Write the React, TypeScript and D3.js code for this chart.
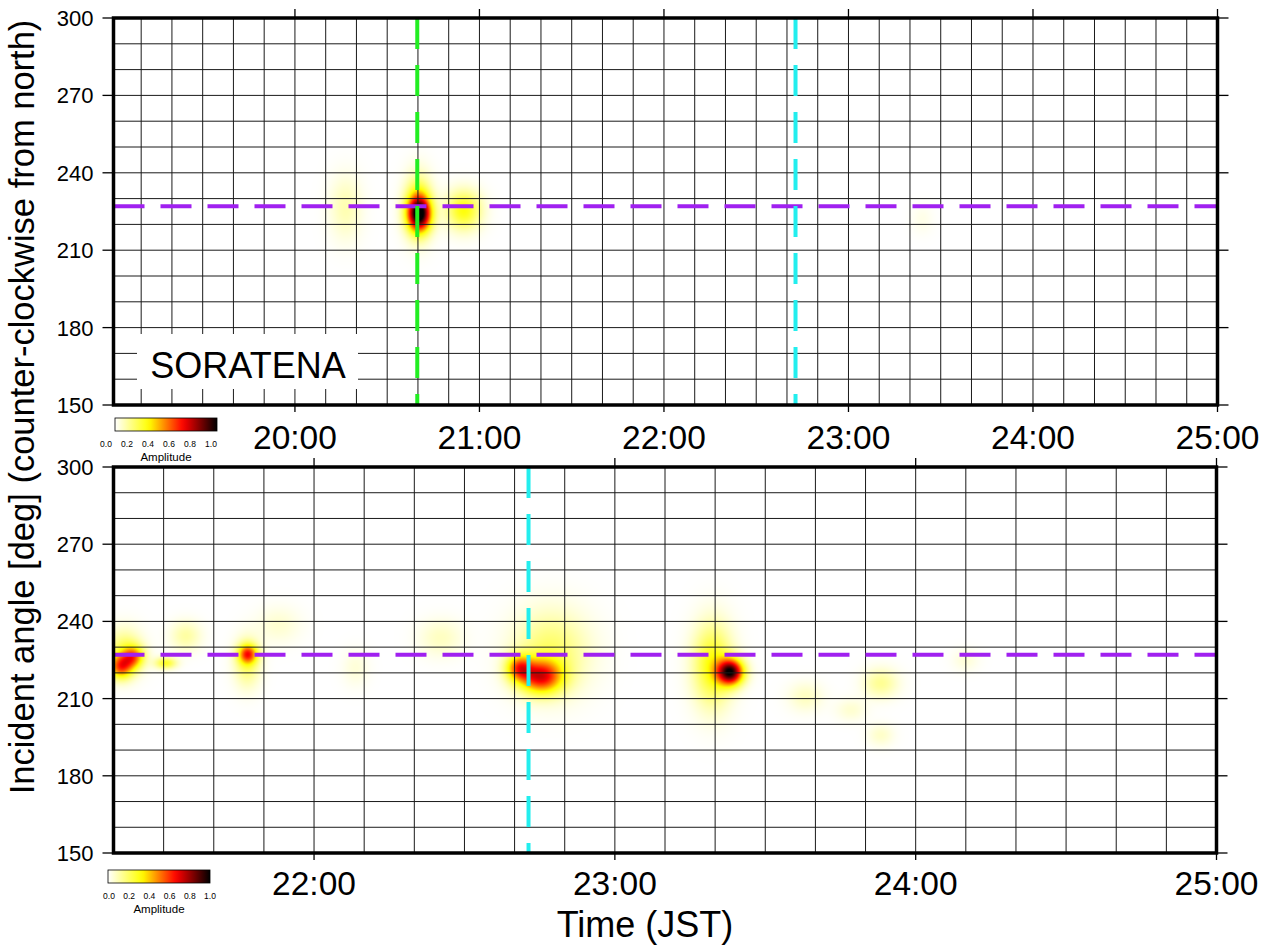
import React, { useMemo } from "react";
import * as d3 from "d3";

// ---------- data ----------
const topTimeDomain = [19 + 1 / 60, 25];
const bottomTimeDomain = [21 + 20 / 60, 25];
const angleDomain = [150, 300];
const angleTicks = [150, 180, 210, 240, 270, 300];
const topHourTicks = [20, 21, 22, 23, 24, 25];
const bottomHourTicks = [22, 23, 24, 25];
const colorbarTicks = [0, 0.2, 0.4, 0.6, 0.8, 1.0];
const referenceAngle = 227;
const greenTime = 20.663;
const cyanTime = 22.713;
const stationName = "SORATENA";

// sources: [time (h), angle (deg), amplitude, spread in time (h), spread in angle (deg)]
const topSources: number[][] = [
  [20.674, 224.0, 0.82, 0.045, 4.6],
  [20.668, 227.0, 0.35, 0.05, 8.0],
  [20.275, 226.5, 0.1, 0.06, 8.5],
  [20.915, 225.5, 0.32, 0.065, 5.2],
  [23.4, 222.0, 0.03, 0.04, 4.0],
];

const bottomSources: number[][] = [
  [21.358, 222.3, 0.48, 0.027, 3.2],
  [21.4, 226.2, 0.4, 0.025, 3.0],
  [21.37, 228.0, 0.22, 0.04, 6.0],
  [21.507, 223.8, 0.28, 0.025, 1.6],
  [21.574, 234.3, 0.12, 0.035, 4.0],
  [21.78, 227.3, 0.5, 0.022, 2.6],
  [21.778, 224.0, 0.2, 0.03, 6.5],
  [21.882, 238.6, 0.06, 0.05, 5.0],
  [22.421, 233.5, 0.08, 0.05, 5.0],
  [22.138, 221.9, 0.05, 0.03, 5.0],
  [22.754, 218.5, 0.6, 0.05, 4.5],
  [22.681, 221.9, 0.45, 0.03, 3.5],
  [22.787, 228.0, 0.2, 0.085, 11.0],
  [23.385, 220.3, 0.9, 0.03, 3.5],
  [23.325, 223.0, 0.32, 0.045, 11.0],
  [23.634, 210.6, 0.08, 0.04, 4.0],
  [23.785, 205.6, 0.06, 0.035, 3.0],
  [23.884, 216.0, 0.14, 0.04, 4.0],
  [23.884, 195.8, 0.07, 0.03, 3.0],
  [24.166, 225.0, 0.05, 0.03, 3.0],
];

// ---------- style ----------
const FONT = "'Liberation Sans', Arial, Helvetica, sans-serif";
const PURPLE = "#a020f0";
const GREEN = "#22ee22";
const CYAN = "#22eeee";

const colormap = d3
  .scaleLinear<string>()
  .domain([0, 1 / 3, 2 / 3, 1])
  .range(["#ffffff", "#ffff00", "#ff0000", "#000000"])
  .clamp(true);

function makeHeat(
  sources: number[][],
  x: d3.ScaleLinear<number, number>,
  y: d3.ScaleLinear<number, number>,
  left: number,
  top: number,
  w: number,
  h: number
): string {
  if (typeof document === "undefined") return "";
  const canvas = document.createElement("canvas");
  canvas.width = w;
  canvas.height = h;
  const ctx = canvas.getContext("2d");
  if (!ctx) return "";
  const img = ctx.createImageData(w, h);
  const pxSources = sources.map(([t, a, amp, st, sa]) => {
    const cx = x(t) - left;
    const cy = y(a) - top;
    const sx = Math.abs(x(t + st) - x(t));
    const sy = Math.abs(y(a + sa) - y(a));
    return [cx, cy, amp, sx, sy];
  });
  for (let j = 0; j < h; j++) {
    for (let i = 0; i < w; i++) {
      let v = 0;
      for (const [cx, cy, amp, sx, sy] of pxSources) {
        const dx = (i + 0.5 - cx) / sx;
        const dy = (j + 0.5 - cy) / sy;
        const d2 = dx * dx + dy * dy;
        if (d2 < 30) v += amp * Math.exp(-0.5 * d2);
      }
      v = Math.min(1, v);
      const c = d3.rgb(colormap(v));
      const k = (j * w + i) * 4;
      img.data[k] = c.r;
      img.data[k + 1] = c.g;
      img.data[k + 2] = c.b;
      img.data[k + 3] = 255;
    }
  }
  ctx.putImageData(img, 0, 0);
  return canvas.toDataURL();
}

type PanelProps = {
  left: number;
  right: number;
  top: number;
  bottom: number;
  domain: number[];
  hours: number[];
  sources: number[][];
  vLines: { t: number; color: string }[];
  labelBaseline: number;
  showTopTicks: boolean;
  id: string;
};

const hourLabel = (h: number) => `${h}:00`;

function Panel(p: PanelProps) {
  const x = d3.scaleLinear().domain(p.domain).range([p.left, p.right]);
  const y = d3.scaleLinear().domain(angleDomain).range([p.bottom, p.top]);
  const w = Math.round(p.right - p.left);
  const h = Math.round(p.bottom - p.top);
  const href = useMemo(
    () => makeHeat(p.sources, x, y, p.left, p.top, w, h),
    [p.id]
  );
  const tenMin = d3
    .range(Math.ceil(p.domain[0] * 6 - 1e-6), Math.floor(p.domain[1] * 6 + 1e-6) + 1)
    .map((k) => k / 6)
    .filter((t) => x(t) > p.left + 2 && x(t) < p.right - 2);
  const tenDeg = d3.range(160, 300, 10);
  return (
    <g>
      {href && (
        <image
          href={href}
          x={p.left}
          y={p.top}
          width={w}
          height={h}
          preserveAspectRatio="none"
        />
      )}
      {tenMin.map((t, i) => (
        <line key={"v" + i} x1={x(t)} x2={x(t)} y1={p.top} y2={p.bottom} stroke="#1a1a1a" strokeWidth={1} />
      ))}
      {tenDeg.map((a, i) => (
        <line key={"h" + i} x1={p.left} x2={p.right} y1={y(a)} y2={y(a)} stroke="#1a1a1a" strokeWidth={1} />
      ))}
      <line
        x1={p.left}
        x2={p.right}
        y1={y(referenceAngle)}
        y2={y(referenceAngle)}
        stroke={PURPLE}
        strokeWidth={4}
        strokeDasharray="31,16"
      />
      {p.vLines.map((v, i) => (
        <line
          key={"vl" + i}
          x1={x(v.t)}
          x2={x(v.t)}
          y1={p.top}
          y2={p.bottom}
          stroke={v.color}
          strokeWidth={4}
          strokeDasharray="31,16"
        />
      ))}
      {/* ticks */}
      {angleTicks.map((a, i) => (
        <g key={"at" + i}>
          <line x1={p.left - 11} x2={p.left} y1={y(a)} y2={y(a)} stroke="#000" strokeWidth={1.3} />
          <line x1={p.right} x2={p.right + 11} y1={y(a)} y2={y(a)} stroke="#000" strokeWidth={1.3} />
          <text
            x={p.left - 20}
            y={y(a)}
            dy="0.36em"
            textAnchor="end"
            fontSize={22}
            fontFamily={FONT}
          >
            {a}
          </text>
        </g>
      ))}
      {p.hours.map((hh, i) => (
        <g key={"ht" + i}>
          {p.showTopTicks && (
            <line x1={x(hh)} x2={x(hh)} y1={p.top - 9} y2={p.top} stroke="#000" strokeWidth={1.3} />
          )}
          <line x1={x(hh)} x2={x(hh)} y1={p.bottom} y2={p.bottom + 7} stroke="#000" strokeWidth={1.3} />
          <text x={x(hh)} y={p.labelBaseline} textAnchor="middle" fontSize={33.5} fontFamily={FONT}>
            {hourLabel(hh)}
          </text>
        </g>
      ))}
      <rect
        x={p.left}
        y={p.top}
        width={p.right - p.left}
        height={p.bottom - p.top}
        fill="none"
        stroke="#000"
        strokeWidth={3.5}
      />
    </g>
  );
}

function Colorbar({ x0, x1, y0, labelX0, labelX1, labelY, titleX, titleY, id }: any) {
  const stops = d3.range(0, 1.0001, 0.05);
  const lx = d3.scaleLinear().domain([0, 1]).range([labelX0, labelX1]);
  return (
    <g>
      <defs>
        <linearGradient id={id} x1="0" x2="1" y1="0" y2="0">
          {stops.map((s, i) => (
            <stop key={i} offset={s} stopColor={colormap(s)} />
          ))}
        </linearGradient>
      </defs>
      <rect x={x0} y={y0} width={x1 - x0} height={13} fill={`url(#${id})`} stroke="#000" strokeWidth={0.8} />
      {colorbarTicks.map((v, i) => (
        <text key={i} x={lx(v)} y={labelY} textAnchor="middle" fontSize={8.5} fontFamily={FONT}>
          {v.toFixed(1)}
        </text>
      ))}
      <text x={titleX} y={titleY} textAnchor="middle" fontSize={11.5} fontFamily={FONT}>
        Amplitude
      </text>
    </g>
  );
}

export default function App() {
  return (
    <svg width={1269} height={946} style={{ display: "block", position: "absolute", left: 0, top: 0 }}>
      <rect x={0} y={0} width={1269} height={946} fill="#fff" />
      <Panel
        id="top"
        left={113.5}
        right={1217.5}
        top={18}
        bottom={405}
        domain={topTimeDomain}
        hours={topHourTicks}
        sources={topSources}
        vLines={[
          { t: greenTime, color: GREEN },
          { t: cyanTime, color: CYAN },
        ]}
        labelBaseline={449}
        showTopTicks={true}
      />
      <rect x={137} y={334} width={221} height={55} fill="#fff" />
      <text x={248} y={378} textAnchor="middle" fontSize={36} fontFamily={FONT}>
        {stationName}
      </text>
      <Panel
        id="bottom"
        left={113.5}
        right={1216.5}
        top={467}
        bottom={853}
        domain={bottomTimeDomain}
        hours={bottomHourTicks}
        sources={bottomSources}
        vLines={[{ t: cyanTime, color: CYAN }]}
        labelBaseline={895}
        showTopTicks={true}
      />
      <Colorbar id="cb1" x0={115} x1={217} y0={418} labelX0={106} labelX1={211} labelY={447} titleX={166} titleY={461} />
      <Colorbar id="cb2" x0={108} x1={210} y0={870} labelX0={109} labelX1={210} labelY={899} titleX={159} titleY={913} />
      <text x={645} y={937} textAnchor="middle" fontSize={36} fontFamily={FONT}>
        Time (JST)
      </text>
      <text
        transform="translate(34,407) rotate(-90)"
        textAnchor="middle"
        fontSize={34.5}
        fontFamily={FONT}
      >
        Incident angle [deg] (counter-clockwise from north)
      </text>
    </svg>
  );
}
